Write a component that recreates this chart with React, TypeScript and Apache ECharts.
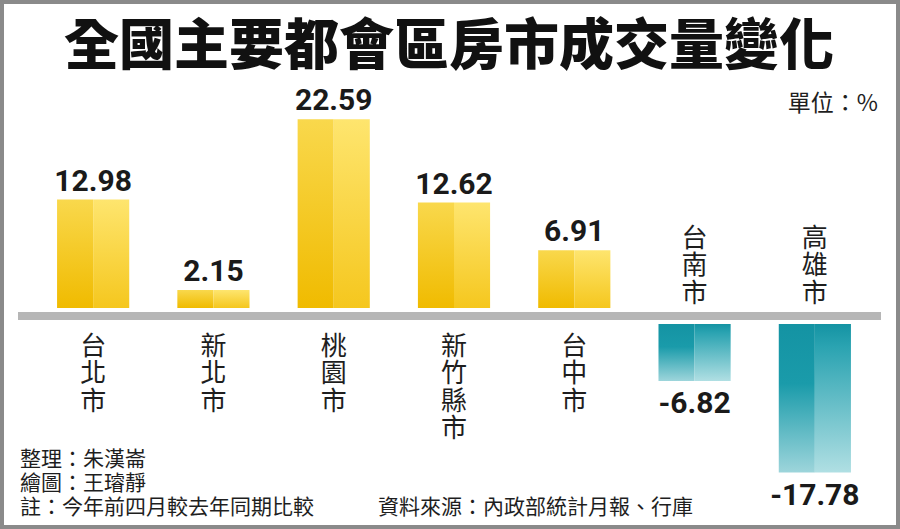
import React, { useEffect, useRef } from 'react';
import * as echarts from 'echarts';

const categories = ['台北市', '新北市', '桃園市', '新竹縣市', '台中市', '台南市', '高雄市'];
const values = [12.98, 2.15, 22.59, 12.62, 6.91, -6.82, -17.78];
const valueLabels = ['12.98', '2.15', '22.59', '12.62', '6.91', '-6.82', '-17.78'];
const titleText = '全國主要都會區房市成交量變化';
const unitText = '單位：%';
const notes = ['整理：朱漢崙', '繪圖：王璿靜', '註：今年前四月較去年同期比較'];
const sourceText = '資料來源：內政部統計月報、行庫';

const CJK = '"Noto Sans CJK TC", "Noto Sans CJK SC", sans-serif';
const NUM = 'Roboto, "Liberation Sans", sans-serif';

export default function App() {
  const ref = useRef<HTMLDivElement>(null);
  useEffect(() => {
    if (!ref.current) return;
    const chart = echarts.init(ref.current, null, { renderer: 'svg' });
    const grad = (stops: [number, string][]) =>
      new echarts.graphic.LinearGradient(0, 0, 0, 1, stops.map(([offset, color]) => ({ offset, color })));
    const posL = grad([[0, '#F9D84C'], [1, '#F0BB00']]);
    const posR = grad([[0, '#FEE56E'], [1, '#F5C71E']]);
    const negL = grad([[0, '#1493A3'], [0.4, '#1A9BAA'], [1, '#9DD5DB']]);
    const negR = grad([[0, '#1493A3'], [0.15, '#2AA3B1'], [1, '#B0DFE3']]);
    const GAP = 8;
    const STEP = 27.5;

    const renderItem = (params: any, api: any) => {
      const i = api.value(0);
      const v = api.value(1);
      const [cx, y0] = api.coord([i, 0]);
      const yv = api.coord([i, v])[1];
      const bw = api.size([1, 0])[0] * 0.6;
      const pos = v >= 0;
      const top = pos ? yv - GAP : y0 + GAP;
      const bottom = pos ? y0 - GAP : yv + GAP;
      const h = bottom - top;
      const chars = categories[i].split('');
      const n = chars.length;
      const children: any[] = [
        { type: 'rect', shape: { x: cx - bw / 2, y: top, width: bw / 2, height: h }, style: { fill: pos ? posL : negL } },
        { type: 'rect', shape: { x: cx, y: top, width: bw / 2, height: h }, style: { fill: pos ? posR : negR } },
        {
          type: 'text',
          x: cx,
          y: pos ? top - 19.5 : bottom + 22,
          style: {
            text: valueLabels[i],
            fill: '#1a1a1a',
            fontFamily: NUM,
            fontWeight: 'bold',
            fontSize: 30,
            align: 'center',
            verticalAlign: 'middle',
          },
        },
      ];
      chars.forEach((c, k) => {
        const cy = pos ? y0 + 27 + k * STEP : y0 - 26 - (n - 1 - k) * STEP;
        children.push({
          type: 'text',
          x: cx,
          y: cy,
          style: {
            text: c,
            fill: '#1e1e1e',
            fontFamily: CJK,
            fontSize: 26,
            align: 'center',
            verticalAlign: 'middle',
          },
        });
      });
      return { type: 'group', children };
    };

    const option: any = {
      animation: false,
      backgroundColor: '#ffffff',
      grid: { left: 33, right: 25, top: 65.5, bottom: 46 },
      xAxis: { type: 'category', data: categories, show: false },
      yAxis: { type: 'value', min: -20, max: 30, show: false },
      series: [
        {
          type: 'custom',
          renderItem,
          data: values.map((v, i) => [i, v]),
          z: 5,
        },
      ],
      graphic: [
        { type: 'rect', shape: { x: 2, y: 2, width: 896, height: 525 }, style: { fill: 'none', stroke: '#8a8a8a', lineWidth: 4 }, z: 0 },
        { type: 'rect', shape: { x: 18, y: 312, width: 863, height: 8 }, style: { fill: '#b6b6b6' }, z: 1 },
        {
          type: 'text', x: 449, y: 40,
          style: { text: titleText, fill: '#111', fontFamily: CJK, fontWeight: 900, fontSize: 55, align: 'center', verticalAlign: 'middle' },
        },
        {
          type: 'text', x: 878, y: 101,
          style: { text: unitText, fill: '#1e1e1e', fontFamily: CJK, fontSize: 23, align: 'right', verticalAlign: 'middle' },
        },
        ...notes.map((t, k) => ({
          type: 'text', x: 20, y: 457 + k * 24,
          style: { text: t, fill: '#1e1e1e', fontFamily: CJK, fontSize: 21, align: 'left', verticalAlign: 'middle' },
        })),
        {
          type: 'text', x: 378, y: 505,
          style: { text: sourceText, fill: '#1e1e1e', fontFamily: CJK, fontSize: 21, align: 'left', verticalAlign: 'middle' },
        },
      ],
    };
    chart.setOption(option);
    return () => chart.dispose();
  }, []);
  return <div ref={ref} style={{ position: 'fixed', left: 0, top: 0, width: 900, height: 529 }} />;
}
